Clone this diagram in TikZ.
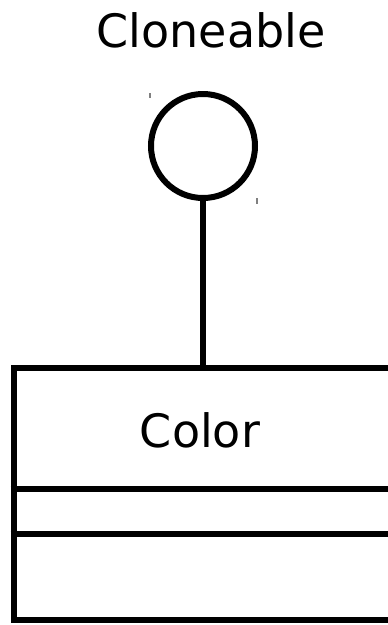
\documentclass[tikz,border=0pt]{standalone}
\usepackage{fontspec}
\setmainfont{DejaVu Sans}
\begin{document}
\begin{tikzpicture}[x=1pt,y=1pt,
  umlline/.style={line width=6pt},
  ifacecircle/.style={circle, draw, umlline, minimum size=104pt, inner sep=0pt},
  classbox/.style={rectangle, draw, umlline, minimum width=381.5pt, minimum height=252pt, inner sep=0pt},
  umltext/.style={font=\fontsize{46}{50}\selectfont, anchor=base, inner sep=0pt},
  tick/.style={line width=1.5pt, gray}]
  \useasboundingbox (0,0) rectangle (388,-625);
  \clip (0,0) rectangle (388,-625);
  % interface lollipop
  \node[umltext] (ifname) at (211,-47) {Cloneable};
  \node[ifacecircle] (iface) at (203,-146) {};
  % class box with two compartments
  \node[classbox] (cls) at (204.25,-494) {};
  \node[umltext] (clsname) at (200,-447) {Color};
  \coordinate (div1) at (0,-489);
  \coordinate (div2) at (0,-534);
  \draw[umlline] (cls.west |- div1) -- (cls.east |- div1);
  \draw[umlline] (cls.west |- div2) -- (cls.east |- div2);
  % realization link
  \draw[umlline] (iface.south) -- (iface.south |- cls.north);
  % small marks beside the circle
  \draw[tick] (150,-93) -- (150,-98);
  \draw[tick] (257,-198) -- (257,-204);
\end{tikzpicture}
\end{document}
